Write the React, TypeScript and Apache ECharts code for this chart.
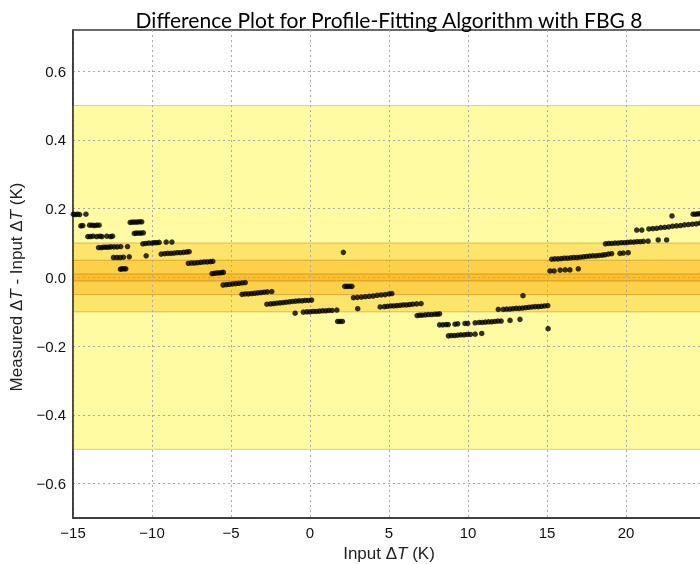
import { useEffect, useRef } from 'react';
import * as echarts from 'echarts';

// Axis ticks
const xTicks = [-15, -10, -5, 0, 5, 10, 15, 20, 25];
const yTicks = [-0.6, -0.4, -0.2, 0, 0.2, 0.4, 0.6];

// Tolerance bands (half-widths, K)
const toleranceBands = [0.5, 0.1, 0.05, 0.01];

// Measured - input differences, [input ΔT (K), difference (K)]
const rangeBelowMinus10: [number, number][] = [
  [-14.98, 0.184], [-14.85, 0.183], [-14.72, 0.184], [-14.58, 0.183], [-14.18, 0.184],
  [-14.5, 0.150], [-14.38, 0.151], [-13.95, 0.152], [-13.8, 0.152], [-13.65, 0.151], [-13.5, 0.152], [-13.35, 0.152],
  [-14.06, 0.119], [-13.9, 0.119], [-13.74, 0.120], [-13.5, 0.119], [-13.3, 0.120], [-13.17, 0.119], [-12.86, 0.120], [-12.62, 0.119], [-12.5, 0.120],
  [-13.38, 0.087], [-13.2, 0.087], [-13.05, 0.088], [-12.9, 0.088], [-12.75, 0.088], [-12.6, 0.089], [-12.4, 0.089], [-12.2, 0.089], [-11.98, 0.090], [-11.55, 0.090],
  [-12.44, 0.058], [-12.22, 0.058], [-12.01, 0.058], [-11.81, 0.059], [-11.44, 0.060],
  [-12.0, 0.024], [-11.9, 0.025], [-11.78, 0.025], [-11.66, 0.025],
  [-11.38, 0.160], [-11.25, 0.161], [-11.1, 0.161], [-10.95, 0.161], [-10.8, 0.162], [-10.65, 0.162],
  [-11.12, 0.128], [-11.0, 0.129], [-10.85, 0.129], [-10.7, 0.129], [-10.55, 0.130],
];

const rangeMinus10To0: [number, number][] = [
  [-10.58, 0.098], [-10.4, 0.099], [-10.2, 0.100], [-10.0, 0.100], [-9.85, 0.101], [-9.7, 0.101], [-9.55, 0.102], [-9.1, 0.103], [-8.74, 0.103],
  [-10.37, 0.063],
  [-9.42, 0.068], [-9.2, 0.069], [-9.0, 0.070], [-8.8, 0.070], [-8.6, 0.071], [-8.4, 0.072], [-8.2, 0.072], [-8.0, 0.073], [-7.8, 0.074], [-7.65, 0.075],
  [-7.7, 0.041], [-7.5, 0.042], [-7.3, 0.042], [-7.1, 0.043], [-6.9, 0.044], [-6.7, 0.045], [-6.5, 0.045], [-6.3, 0.046], [-6.15, 0.047],
  [-6.2, 0.011], [-6.05, 0.012], [-5.9, 0.013], [-5.75, 0.013], [-5.6, 0.014], [-5.48, 0.015],
  [-5.5, -0.022], [-5.3, -0.021], [-5.1, -0.020], [-4.9, -0.019], [-4.7, -0.018], [-4.5, -0.017], [-4.3, -0.016], [-4.1, -0.015],
  [-4.3, -0.049], [-4.1, -0.048], [-3.9, -0.048], [-3.7, -0.047], [-3.5, -0.046], [-3.3, -0.045], [-3.1, -0.044], [-2.9, -0.043], [-2.7, -0.042], [-2.42, -0.041],
  [-2.73, -0.078], [-2.5, -0.077], [-2.3, -0.076], [-2.1, -0.075], [-1.9, -0.074], [-1.7, -0.073], [-1.5, -0.072], [-1.3, -0.071], [-1.1, -0.070], [-0.9, -0.069], [-0.7, -0.068], [-0.5, -0.068], [-0.3, -0.067], [-0.1, -0.067], [0.1, -0.066],
  [-0.94, -0.104],
  [-0.42, -0.101], [-0.2, -0.100], [0.0, -0.100], [0.2, -0.099], [0.4, -0.099], [0.6, -0.098], [0.8, -0.097], [1.0, -0.097], [1.2, -0.096], [1.4, -0.096], [1.7, -0.095],
];

const range0To15: [number, number][] = [
  [1.75, -0.128], [1.9, -0.128], [2.05, -0.128],
  [2.11, 0.073],
  [2.2, -0.026], [2.35, -0.026], [2.5, -0.026], [2.65, -0.026],
  [2.75, -0.059], [3.0, -0.058], [3.25, -0.057], [3.5, -0.056], [3.75, -0.055], [4.0, -0.054], [4.25, -0.052], [4.5, -0.051], [4.75, -0.050], [5.0, -0.048], [5.18, -0.047],
  [3.02, -0.091],
  [4.44, -0.086], [4.71, -0.085], [4.9, -0.084], [5.1, -0.083], [5.3, -0.083], [5.5, -0.082], [5.7, -0.081], [5.9, -0.080], [6.1, -0.080], [6.3, -0.079], [6.5, -0.078], [6.75, -0.077], [7.03, -0.076],
  [6.78, -0.111], [6.95, -0.110], [7.1, -0.110], [7.3, -0.109], [7.5, -0.108], [7.7, -0.108], [7.9, -0.107], [8.05, -0.107], [8.2, -0.106],
  [8.2, -0.138], [8.4, -0.138], [8.6, -0.137], [8.75, -0.137], [9.18, -0.136], [9.35, -0.135], [9.81, -0.134], [9.98, -0.134], [10.45, -0.132], [10.7, -0.131], [10.9, -0.131], [11.1, -0.130], [11.3, -0.129], [11.5, -0.129], [11.7, -0.128], [11.9, -0.127], [12.1, -0.127], [12.66, -0.125], [13.29, -0.122],
  [8.76, -0.170], [8.95, -0.169], [9.15, -0.169], [9.35, -0.168], [9.55, -0.167], [9.75, -0.167], [9.95, -0.166], [10.15, -0.166], [10.45, -0.165], [10.87, -0.163],
  [11.92, -0.093], [12.24, -0.093], [12.45, -0.092], [12.65, -0.092], [12.85, -0.091], [13.05, -0.090], [13.25, -0.090], [13.45, -0.089], [13.65, -0.088], [13.85, -0.087], [14.05, -0.086], [14.25, -0.085], [14.45, -0.085], [14.65, -0.084], [14.85, -0.083], [15.05, -0.082],
  [13.48, -0.053],
  [15.07, -0.149],
];

const range15To25: [number, number][] = [
  [15.3, 0.053], [15.5, 0.054], [15.7, 0.054], [15.9, 0.055], [16.1, 0.056], [16.3, 0.056], [16.5, 0.057], [16.7, 0.058], [16.9, 0.058], [17.1, 0.059], [17.3, 0.060], [17.5, 0.061], [17.7, 0.062], [17.9, 0.063], [18.1, 0.063], [18.3, 0.064], [18.5, 0.065], [18.67, 0.066],
  [15.19, 0.019], [15.45, 0.019], [15.83, 0.021], [16.15, 0.022], [16.45, 0.022], [16.98, 0.025],
  [18.88, 0.068], [19.09, 0.069], [19.62, 0.070], [19.83, 0.071], [20.14, 0.072],
  [18.7, 0.098], [18.9, 0.099], [19.1, 0.099], [19.3, 0.100], [19.5, 0.100], [19.7, 0.101], [19.9, 0.101], [20.1, 0.102], [20.3, 0.103], [20.5, 0.103], [20.7, 0.104], [20.9, 0.104], [21.1, 0.105], [21.4, 0.106],
  [20.68, 0.138], [21.0, 0.138],
  [22.04, 0.109], [22.57, 0.109],
  [21.45, 0.141], [21.7, 0.142], [21.95, 0.143], [22.2, 0.145], [22.45, 0.146], [22.7, 0.147], [22.95, 0.149], [23.2, 0.150], [23.45, 0.151], [23.7, 0.153], [23.95, 0.154], [24.2, 0.155], [24.45, 0.156], [24.7, 0.158], [24.95, 0.159],
  [22.91, 0.179],
  [24.25, 0.184], [24.4, 0.184], [24.55, 0.185], [24.7, 0.185], [24.85, 0.186],
];

const fmt = (v: number, digits: number) =>
  v < 0 ? '\u2212' + Math.abs(v).toFixed(digits) : v.toFixed(digits);

export default function App() {
  const ref = useRef<HTMLDivElement>(null);

  useEffect(() => {
    if (!ref.current) return;
    const chart = echarts.init(ref.current, null, { renderer: 'svg' });

    const sans = "'Liberation Sans', Arial, Helvetica, sans-serif";
    const bandFill = ['#FFFBA3', '#FDE46A', '#FDD147', '#FBBE2E'];
    const bandEdge = ['#E2CE6A', '#DDBB48', '#D8A935', '#D29A26'];
    const gridLine = { show: true, lineStyle: { color: '#a9a9a9', type: [2, 3], width: 1 } };
    const nameRich = {
      n: { fontSize: 17, fontFamily: sans, color: '#222' },
      i: { fontSize: 17, fontFamily: sans, fontStyle: 'italic', color: '#222' },
    };

    const points = [...rangeBelowMinus10, ...rangeMinus10To0, ...range0To15, ...range15To25];

    chart.setOption({
      animation: false,
      title: {
        text: 'Difference Plot for Profile-Fitting Algorithm with FBG 8',
        left: 384,
        top: 4,
        textAlign: 'center',
        textStyle: { fontFamily: "Lato, 'Open Sans', sans-serif", fontSize: 21, fontWeight: 'normal', color: '#000' },
      },
      grid: {
        left: 73,
        right: 15,
        top: 30,
        bottom: 46,
        outerBoundsMode: 'none',
        show: true,
        backgroundColor: '#fff',
        borderColor: '#3a3a3a',
        borderWidth: 1.5,
      },
      xAxis: {
        type: 'value',
        min: xTicks[0],
        max: xTicks[xTicks.length - 1],
        interval: 5,
        z: 3,
        axisLine: { show: true, onZero: false, lineStyle: { color: '#333', width: 1.5 } },
        axisTick: { show: false },
        splitLine: gridLine,
        axisLabel: {
          formatter: (v: number) => fmt(v, 0),
          showMaxLabel: false,
          color: '#111',
          fontSize: 15,
          fontFamily: sans,
          margin: 7,
        },
        name: '{n|Input Δ}{i|T}{n| (K)}',
        nameLocation: 'middle',
        nameGap: 25,
        nameTextStyle: { rich: nameRich },
      },
      yAxis: {
        type: 'value',
        min: -0.7,
        max: 0.72,
        z: 3,
        axisLine: { show: true, onZero: false, lineStyle: { color: '#333', width: 1.5 } },
        axisTick: { show: false, customValues: yTicks },
        splitLine: gridLine,
        axisLabel: { customValues: yTicks, formatter: (v: number) => fmt(v, 1), color: '#111', fontSize: 15, fontFamily: sans, margin: 7 },
        name: '{n|Measured Δ}{i|T}{n| - Input Δ}{i|T}{n| (K)}',
        nameLocation: 'middle',
        nameRotate: 90,
        nameGap: 47,
        nameTextStyle: { rich: nameRich, padding: [0, 26, 0, 0] },
      },
      series: [
        {
          type: 'scatter',
          data: [],
          silent: true,
          z: 1,
          markArea: {
            silent: true,
            data: toleranceBands.map((b, i) => [
              { yAxis: -b, itemStyle: { color: bandFill[i], borderColor: bandEdge[i], borderWidth: 1 } },
              { yAxis: b },
            ]),
          },
        },
        {
          type: 'scatter',
          data: points,
          symbol: 'circle',
          symbolSize: 5.5,
          itemStyle: { color: '#000' },
          z: 5,
        },
      ],
    });

    return () => chart.dispose();
  }, []);

  return <div ref={ref} style={{ position: 'fixed', left: 0, top: 0, width: 720, height: 564 }} />;
}
